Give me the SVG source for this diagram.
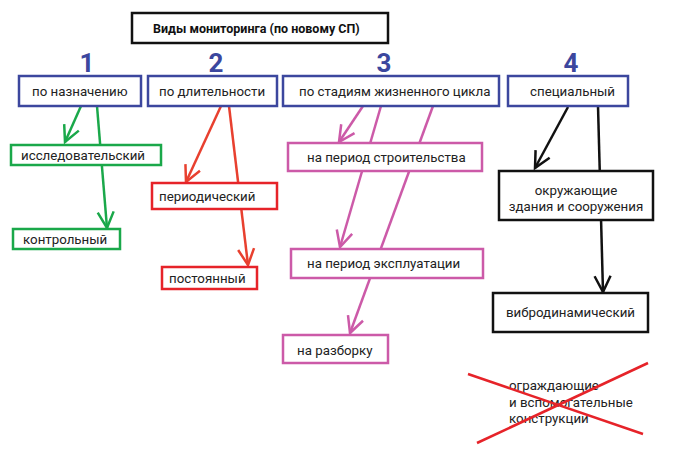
<svg xmlns="http://www.w3.org/2000/svg" width="678" height="461" viewBox="0 0 678 461">
<style>
text{font-family:Roboto,"Liberation Sans",sans-serif;font-size:13.3px;fill:#222}
.t{font-weight:bold;font-size:12.5px;fill:#111}
.n{font-weight:bold;font-size:26px;fill:#3c479e;text-anchor:middle}
rect{fill:#fff;stroke-width:2.5}
.b{stroke:#3c479e}.g{stroke:#1aa84a}.r{stroke:#e62329}.m{stroke:#cc5aa8}.k{stroke:#111}
line{stroke-width:2.5;fill:none}
.lg{stroke:#1aa84a}.lr{stroke:#e8402f}.lm{stroke:#cc5aa8}.lk{stroke:#111}
</style>
<defs>
<marker id="ag" markerUnits="userSpaceOnUse" markerWidth="30" markerHeight="30" refX="0" refY="0" viewBox="-20 -15 30 30" orient="auto"><path d="M-16,-8 L0,0 L-16,8" fill="none" stroke="#1aa84a" stroke-width="2.5"/></marker>
<marker id="ar" markerUnits="userSpaceOnUse" markerWidth="30" markerHeight="30" refX="0" refY="0" viewBox="-20 -15 30 30" orient="auto"><path d="M-16,-8 L0,0 L-16,8" fill="none" stroke="#e8402f" stroke-width="2.5"/></marker>
<marker id="am" markerUnits="userSpaceOnUse" markerWidth="30" markerHeight="30" refX="0" refY="0" viewBox="-20 -15 30 30" orient="auto"><path d="M-16,-8 L0,0 L-16,8" fill="none" stroke="#cc5aa8" stroke-width="2.5"/></marker>
<marker id="ak" markerUnits="userSpaceOnUse" markerWidth="30" markerHeight="30" refX="0" refY="0" viewBox="-20 -15 30 30" orient="auto"><path d="M-16,-8 L0,0 L-16,8" fill="none" stroke="#111" stroke-width="2.5"/></marker>
</defs>
<g id="connectors">
<line class="lg" x1="81" y1="106" x2="65" y2="142" marker-end="url(#ag)"/>
<line class="lg" x1="97" y1="106" x2="107" y2="228" marker-end="url(#ag)"/>
<line class="lr" x1="221" y1="106" x2="186" y2="182" marker-end="url(#ar)"/>
<line class="lr" x1="229" y1="106" x2="248" y2="265" marker-end="url(#ar)"/>
<line class="lm" x1="363" y1="106" x2="339" y2="142" marker-end="url(#am)"/>
<line class="lm" x1="381" y1="106" x2="340" y2="247" marker-end="url(#am)"/>
<line class="lm" x1="433" y1="106" x2="350" y2="333" marker-end="url(#am)"/>
<line class="lk" x1="568" y1="107" x2="535" y2="168" marker-end="url(#ak)"/>
<line class="lk" x1="598" y1="106" x2="603" y2="292" marker-end="url(#ak)"/>
</g>
<g id="title"><rect class="k" x="132" y="13" width="256" height="30"/><text class="t" x="153" y="33">Виды мониторинга (по новому СП)</text></g>
<g id="num1"><text class="n" x="87" y="72">1</text></g>
<g id="num2"><text class="n" x="216" y="72">2</text></g>
<g id="num3"><text class="n" x="384" y="72">3</text></g>
<g id="num4"><text class="n" x="571" y="72">4</text></g>
<g id="n1"><rect class="b" x="19" y="76" width="122" height="30"/><text x="32" y="96">по назначению</text></g>
<g id="n2"><rect class="b" x="148" y="76" width="129" height="30"/><text x="159" y="96">по длительности</text></g>
<g id="n3"><rect class="b" x="283" y="76" width="216" height="30"/><text x="299" y="96">по стадиям жизненного цикла</text></g>
<g id="n4"><rect class="b" x="508" y="76" width="120" height="30"/><text x="530" y="96">специальный</text></g>
<g id="g1"><rect class="g" x="11" y="145" width="150" height="20"/><text x="21" y="160">исследовательский</text></g>
<g id="g2"><rect class="g" x="13" y="229" width="107" height="20"/><text x="23" y="244">контрольный</text></g>
<g id="r1"><rect class="r" x="152" y="183" width="125" height="26"/><text x="159" y="201">периодический</text></g>
<g id="r2"><rect class="r" x="162" y="267" width="95" height="22"/><text x="169" y="283">постоянный</text></g>
<g id="m1"><rect class="m" x="288" y="143" width="194" height="28"/><text x="307" y="162">на период строительства</text></g>
<g id="m2"><rect class="m" x="291" y="249" width="192" height="29"/><text x="307" y="268">на период эксплуатации</text></g>
<g id="m3"><rect class="m" x="283" y="335" width="105" height="28"/><text x="297" y="355">на разборку</text></g>
<g id="k1"><rect class="k" x="499" y="171" width="154" height="49"/><text x="576" y="195" text-anchor="middle">окружающие</text><text x="576" y="211" text-anchor="middle">здания и сооружения</text></g>
<g id="k2"><rect class="k" x="493" y="293" width="155" height="39"/><text x="506" y="317">вибродинамический</text></g>
<g id="crossed">
<text x="509" y="390">ограждающие</text>
<text x="509" y="407">и вспомогательные</text>
<text x="509" y="423">конструкции</text>
<line x1="468" y1="374" x2="643" y2="434" stroke="#e62329" stroke-width="3"/>
<line x1="477" y1="443" x2="648" y2="363" stroke="#e62329" stroke-width="3"/>
</g>
</svg>
